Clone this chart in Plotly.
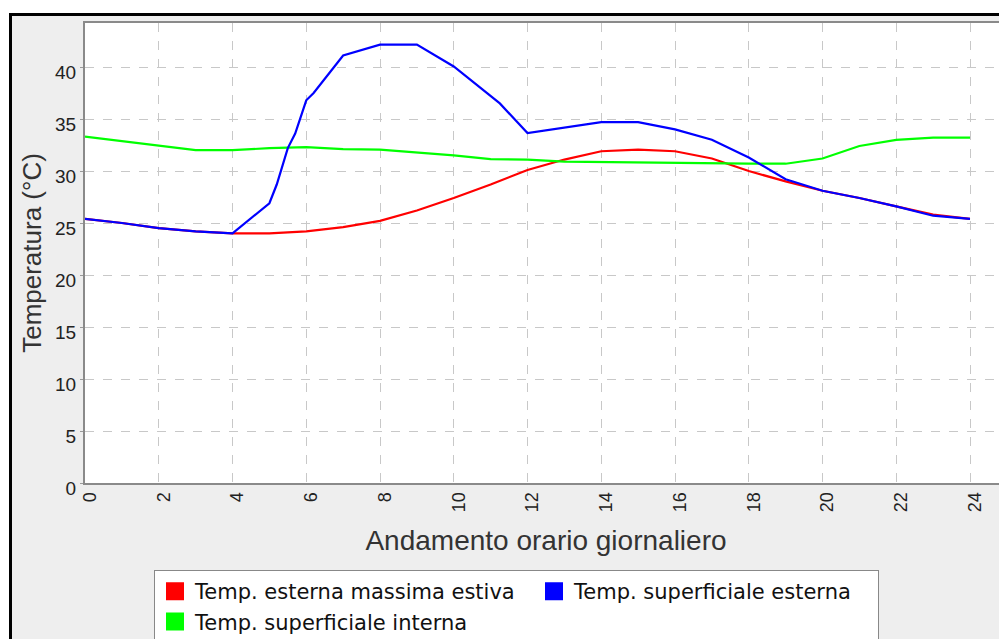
import plotly.graph_objects as go

# ---- data ----
hours = list(range(0, 25))
temp_esterna_max = [25.4, 25.0, 24.5, 24.2, 24.0, 24.0, 24.2, 24.6, 25.2, 26.2, 27.4, 28.7,
                    30.1, 31.1, 31.9, 32.05, 31.9, 31.2, 30.0, 29.0, 28.1, 27.4, 26.6, 25.8, 25.4]
temp_sup_interna = [33.3, 32.85, 32.4, 32.0, 32.0, 32.2, 32.3, 32.1, 32.05, 31.8, 31.5, 31.15,
                    31.1, 30.9, 30.85, 30.85, 30.8, 30.75, 30.7, 30.7, 31.2, 32.4, 33.0, 33.2, 33.2]
hours_sup_esterna = [0, 1, 2, 3, 4, 5, 5.2, 5.5, 5.7, 6, 6.2, 6.55, 7, 8, 9, 10, 10.7, 11.25,
                     12, 13, 14, 15, 16, 17, 18, 19, 20, 21, 22, 23, 24]
temp_sup_esterna = [25.4, 25.0, 24.5, 24.2, 24.0, 26.9, 28.7, 32.2, 33.6, 36.8, 37.5, 39.1, 41.1,
                    42.15, 42.15, 40.05, 38.1, 36.5, 33.65, 34.2, 34.7, 34.7, 34.0, 33.0, 31.3,
                    29.2, 28.1, 27.4, 26.6, 25.7, 25.4]

names = ["Temp. esterna massima estiva", "Temp. superficiale esterna", "Temp. superficiale interna"]
colors = ["#ff0000", "#0000ff", "#00ff00"]
legend_widths = [334, 299, 334]
x_tick_vals = list(range(0, 25, 2))
y_tick_vals = list(range(0, 45, 5))
x_title = "Andamento orario giornaliero"
y_title = "Temperatura (°C)"

# page has an 8px body margin: size the figure so it fills the window exactly
OFF = 8
W, H = 1007 - OFF, 639 - OFF
L, R, T, B = 85 - OFF, 0, 23 - OFF, 639 - 483
pw, ph = W - L - R, H - T - B


def px2x(page_px):
    return (page_px - OFF - L) / pw


def px2y(page_py):
    return (H - B - (page_py - OFF)) / ph


fig = go.Figure()
# lines
fig.add_trace(go.Scatter(x=hours, y=temp_esterna_max, mode="lines", name=names[0],
                         line=dict(color=colors[0], width=2.2), showlegend=False))
fig.add_trace(go.Scatter(x=hours, y=temp_sup_interna, mode="lines", name=names[2],
                         line=dict(color=colors[2], width=2.2), showlegend=False))
fig.add_trace(go.Scatter(x=hours_sup_esterna, y=temp_sup_esterna, mode="lines", name=names[1],
                         line=dict(color=colors[1], width=2.2), showlegend=False))
# legend entries (square swatches)
for nm, c, lw in zip(names, colors, legend_widths):
    fig.add_trace(go.Scatter(x=[None], y=[None], mode="markers", name=nm, legendwidth=lw,
                             marker=dict(symbol="square", size=16, color=c,
                                         line=dict(color=c, width=2))))

font_main = "Liberation Sans, Arial, sans-serif"

fig.update_layout(
    width=W, height=H,
    margin=dict(l=L, r=R, t=T, b=B),
    paper_bgcolor="#eeeeee",
    plot_bgcolor="#ffffff",
    font=dict(family=font_main, color="#333333"),
    showlegend=True,
    legend=dict(
        orientation="h",
        xref="container", yref="container",
        x=(154 - OFF) / W, y=1 - (570 - OFF) / H, xanchor="left", yanchor="top",
        bgcolor="#ffffff", bordercolor="#888888", borderwidth=1,
        font=dict(family="DejaVu Sans, sans-serif", size=21, color="#111111"),
        itemsizing="trace",
    ),
    xaxis=dict(
        range=[0, pw / 36.875], tickvals=x_tick_vals, tickangle=-90,
        showgrid=True, gridcolor="#c8c8c8", griddash="dash", gridwidth=1,
        zeroline=False, showline=True, linecolor="#8a8a8a", linewidth=2, mirror=True,
        ticks="",
        tickfont=dict(size=18, color="#222222"), ticklabelshift=5,
        title=dict(text=x_title, font=dict(size=28, color="#333333"), standoff=19),
        automargin=False,
    ),
    yaxis=dict(
        range=[0, ph / 10.4], tickvals=y_tick_vals,
        showgrid=True, gridcolor="#c8c8c8", griddash="dash", gridwidth=1,
        zeroline=False, showline=True, linecolor="#8a8a8a", linewidth=2, mirror=True,
        ticks="outside", ticklen=3, tickcolor="#9a9a9a",
        tickfont=dict(size=19, color="#222222"), ticklabelshift=5,
        title=dict(text=y_title, font=dict(size=26, color="#333333"), standoff=6),
        automargin=False,
    ),
    shapes=[
        # white surround outside the black frame
        dict(type="rect", xref="paper", yref="paper", x0=px2x(0), x1=px2x(10), y0=px2y(700),
             y1=px2y(0), fillcolor="#ffffff", line=dict(width=0), layer="above"),
        dict(type="rect", xref="paper", yref="paper", x0=px2x(0), x1=px2x(1020), y0=px2y(14),
             y1=px2y(0), fillcolor="#ffffff", line=dict(width=0), layer="above"),
        # black frame
        dict(type="rect", xref="paper", yref="paper", x0=px2x(10.5), x1=px2x(1030),
             y0=px2y(680), y1=px2y(14.5), line=dict(color="#000000", width=3),
             fillcolor="rgba(0,0,0,0)", layer="above"),
    ],
)

fig.write_html("out.html")
